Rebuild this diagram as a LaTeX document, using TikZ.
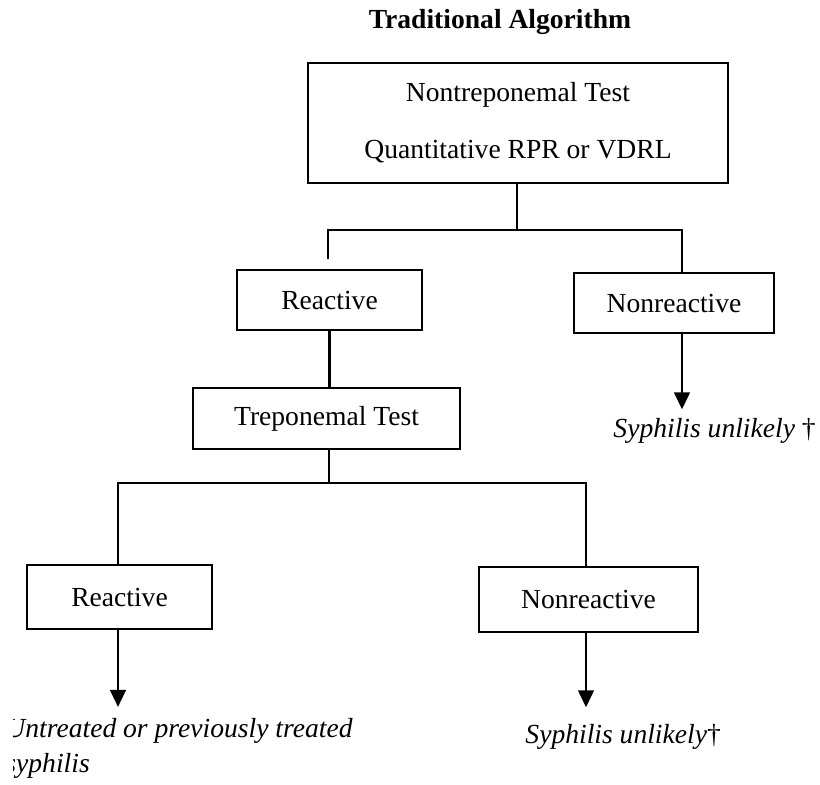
\documentclass[tikz,border=0pt]{standalone}
\usepackage{fontspec}
\setmainfont{Liberation Serif}
\usetikzlibrary{arrows.meta}
\newcommand{\dg}{\textup{\textdagger}}

\begin{document}
\begin{tikzpicture}[x=0.435pt,y=-0.435pt,
    box/.style={draw,line width=0.9pt,inner sep=0pt,font=\fontsize{12}{14.4}\selectfont},
    result/.style={inner sep=0pt,font=\fontsize{12}{15.2}\selectfont\itshape},
    link/.style={line width=1.1pt},
    arr/.style={line width=1.1pt,-{Triangle[width=6.8pt,length=7.4pt]}}]
    \useasboundingbox (0,0) rectangle (820,785);
    \node[anchor=base,font=\fontsize{12}{14.4}\selectfont\bfseries] (title) at (500,28) {Traditional Algorithm};

    \node[box,minimum width=182.7pt,minimum height=52.2pt,align=center,
      font=\fontsize{12}{24.8}\selectfont] (nt) at (518,123) {Nontreponemal Test\\Quantitative RPR or VDRL};
    \node[box,minimum width=80.5pt,minimum height=26.1pt] (ra) at (329.5,300) {Reactive};
    \node[box,minimum width=87pt,minimum height=26.1pt] (nra) at (674,303) {Nonreactive};
    \node[box,minimum width=116.1pt,minimum height=26.5pt] (tt) at (326.5,418.5) {Treponemal Test};
    \node[box,minimum width=80.5pt,minimum height=27.8pt] (rb) at (119.5,597) {Reactive};
    \node[box,minimum width=95.3pt,minimum height=28.3pt] (nrb) at (588.5,599.5) {Nonreactive};

    \node[result,anchor=base west] (sua) at (613,437) {Syphilis unlikely \dg};
    \node[result,anchor=base west] (sub) at (525,743) {Syphilis unlikely\dg};
    \begin{scope}
      \clip (14,700) rectangle (820,785);
      \node[result,anchor=north west,align=left] (ut) at (5,718) {Untreated or previously treated\\syphilis};
    \end{scope}

    \coordinate (ja) at (517,230);
    \coordinate (jal) at (328,230);
    \coordinate (jar) at (682,230);
    \coordinate (jb) at (329,483);
    \coordinate (jbl) at (118,483);
    \coordinate (jbr) at (586,483);

    \draw[link] (nt.south -| ja) -- (ja);
    \draw[link,shorten <=4.35pt] (jal |- ra.north) -- (jal) -- (jar) -- (jar |- nra.north);
    \draw[link] (ra.south) -- (ra.south |- tt.north);
    \draw[link] (tt.south -| jb) -- (jb);
    \draw[link] (jbl |- rb.north) -- (jbl) -- (jbr) -- (jbr |- nrb.north);

    \draw[arr,shorten >=3.5pt] (nra.south -| jar) -- (jar |- sua.north);
    \draw[arr,shorten >=4.8pt] (rb.south -| jbl) -- (jbl |- ut.north);
    \draw[arr,shorten >=7pt] (nrb.south -| jbr) -- (jbr |- sub.north);
\end{tikzpicture}
\end{document}
